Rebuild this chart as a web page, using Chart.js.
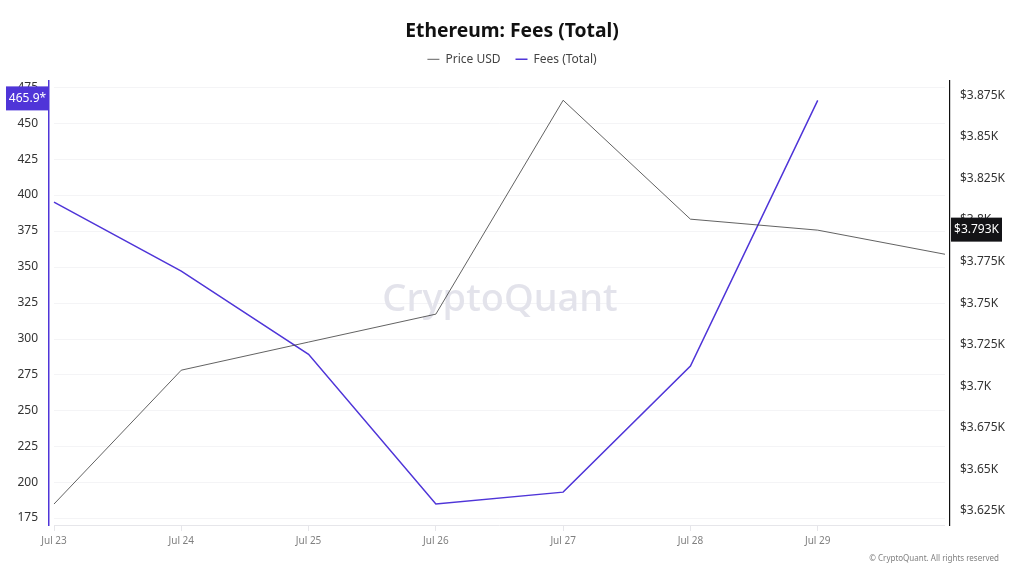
<!DOCTYPE html>
<html>
<head>
<meta charset="utf-8">
<title>Ethereum: Fees (Total)</title>
<script src="https://cdn.jsdelivr.net/npm/chart.js@4/dist/chart.umd.min.js"></script>
<style>
  html, body { margin: 0; padding: 0; background: #fff; }
  canvas { display: block; }
</style>
</head>
<body>
<canvas id="chart" width="1024" height="576"></canvas>
<script>
const days = ["Jul 23", "Jul 24", "Jul 25", "Jul 26", "Jul 27", "Jul 28", "Jul 29"];
const priceUsd = [3629.2, 3709.7, 3726.6, 3743.4, 3872, 3800.5, 3793.9, 3779.4];
const feesTotal = [395, 347, 289, 184.7, 193, 280.8, 465.9];
const feeTicks = [175, 200, 225, 250, 275, 300, 325, 350, 375, 400, 425, 450, 475];
const priceTicks = [3625, 3650, 3675, 3700, 3725, 3750, 3775, 3800, 3825, 3850, 3875];
const priceTickLabels = ["$3.625K", "$3.65K", "$3.675K", "$3.7K", "$3.725K", "$3.75K", "$3.775K", "$3.8K", "$3.825K", "$3.85K", "$3.875K"];

const PURPLE = "#4f35d8";
const FONT = "'Noto Sans', sans-serif";

function pinWidth(width) {
  return (scale) => { scale.width = width; };
}

// extra room under the legend without moving the legend itself
const legendGap = {
  id: "legendGap",
  beforeLayout(chart) {
    const legend = chart.legend;
    if (legend._gapAdded) return;
    const fit = legend.fit;
    legend.fit = function () {
      fit.call(this);
      this.height += 5;
    };
    legend._gapAdded = true;
  },
};

// light grid and baseline only run between the first and last data x, not the whole plot
const gridLines = {
  id: "gridLines",
  beforeDatasetsDraw(chart) {
    const { ctx, scales } = chart;
    const x0 = scales.x.getPixelForValue(0);
    const x1 = scales.x.getPixelForValue(7);
    ctx.save();
    ctx.lineWidth = 1;
    ctx.strokeStyle = "#f4f4f6";
    feeTicks.forEach((t) => {
      const y = Math.round(scales.yFees.getPixelForValue(t)) + 0.5;
      ctx.beginPath();
      ctx.moveTo(x0, y);
      ctx.lineTo(x1, y);
      ctx.stroke();
    });
    ctx.strokeStyle = "#e6e6ea";
    const b = chart.chartArea.bottom + 0.5;
    ctx.beginPath();
    ctx.moveTo(x0, b);
    ctx.lineTo(x1, b);
    ctx.stroke();

    ctx.fillStyle = "#e3e3eb";
    ctx.font = "500 38px " + FONT;
    ctx.textAlign = "center";
    ctx.textBaseline = "middle";
    ctx.fillText("CryptoQuant", 500, 300);
    ctx.restore();
  },
};

function valueTag(ctx, text, left, width, midY, fill) {
  ctx.fillStyle = fill;
  ctx.fillRect(left, midY - 12, width, 24);
  ctx.fillStyle = "#fff";
  ctx.font = "12px " + FONT;
  ctx.textAlign = "center";
  ctx.textBaseline = "middle";
  ctx.fillText(text, left + width / 2, midY);
}

const overlays = {
  id: "overlays",
  afterDraw(chart) {
    const { ctx, scales } = chart;
    ctx.save();
    valueTag(ctx, "465.9*", 6, 43, scales.yFees.getPixelForValue(feesTotal[6]) - 2, PURPLE);
    valueTag(ctx, "$3.793K", 951, 51, scales.yPrice.getPixelForValue(3793) - 2, "#131316");
    ctx.fillStyle = "#808080";
    ctx.font = "8px " + FONT;
    ctx.textAlign = "right";
    ctx.textBaseline = "middle";
    ctx.fillText("© CryptoQuant. All rights reserved", 999, 559);
    ctx.restore();
  },
};

new Chart(document.getElementById("chart"), {
  type: "line",
  data: {
    datasets: [
      {
        label: "Price USD",
        data: priceUsd.map((v, i) => ({ x: i, y: v })),
        yAxisID: "yPrice",
        borderColor: "#3a3a3a",
        borderWidth: 0.8,
        pointRadius: 0,
        tension: 0,
      },
      {
        label: "Fees (Total)",
        data: feesTotal.map((v, i) => ({ x: i, y: v })),
        yAxisID: "yFees",
        borderColor: PURPLE,
        borderWidth: 1.5,
        pointRadius: 0,
        tension: 0,
      },
    ],
  },
  options: {
    responsive: false,
    animation: false,
    layout: { padding: 0 },
    plugins: {
      tooltip: { enabled: false },
      title: {
        display: true,
        text: "Ethereum: Fees (Total)",
        color: "#111",
        font: { family: FONT, size: 19.3, weight: "bold", lineHeight: 1 },
        padding: { top: 22, bottom: -3 },
      },
      legend: {
        display: true,
        labels: {
          usePointStyle: true,
          pointStyle: "line",
          pointStyleWidth: 12,
          color: "#444",
          font: { family: FONT, size: 12 },
          boxWidth: 12,
          padding: 15,
        },
      },
    },
    scales: {
      x: {
        type: "linear",
        min: -0.0393,
        max: 7.0393,
        afterBuildTicks: (scale) => { scale.ticks = days.map((d, i) => ({ value: i })); },
        afterFit: (scale) => { scale.height = 51; },
        border: { display: false },
        grid: { drawOnChartArea: false, drawTicks: true, tickLength: 6, color: "#e6e6ea" },
        ticks: {
          autoSkip: false,
          maxRotation: 0,
          color: "#808080",
          padding: 4,
          font: { family: FONT, size: 10 },
          callback: (v) => days[v],
        },
      },
      yFees: {
        type: "linear",
        position: "left",
        min: 170.1,
        max: 479.9,
        afterBuildTicks: (scale) => { scale.ticks = feeTicks.map((v) => ({ value: v })); },
        afterFit: pinWidth(49),
        border: { display: true, color: PURPLE, width: 1.5 },
        grid: { drawOnChartArea: false, drawTicks: false },
        ticks: {
          autoSkip: false,
          color: "#333",
          padding: 11,
          font: { family: FONT, size: 12 },
        },
      },
      yPrice: {
        type: "linear",
        position: "right",
        min: 3616.6,
        max: 3884,
        afterBuildTicks: (scale) => { scale.ticks = priceTicks.map((v) => ({ value: v })); },
        afterFit: pinWidth(74),
        border: { display: true, color: "#111", width: 1.2 },
        grid: { drawOnChartArea: false, drawTicks: false },
        ticks: {
          autoSkip: false,
          color: "#333",
          padding: 10,
          font: { family: FONT, size: 12 },
          callback: (v) => priceTickLabels[priceTicks.indexOf(v)],
        },
      },
    },
  },
  plugins: [legendGap, gridLines, overlays],
});
</script>
</body>
</html>
